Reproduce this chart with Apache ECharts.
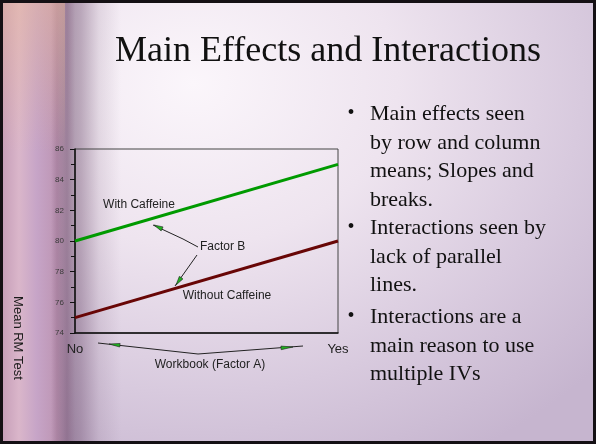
<!DOCTYPE html>
<html>
<head>
<meta charset="utf-8">
<script src="https://cdn.jsdelivr.net/npm/echarts@6/dist/echarts.min.js"></script>
<style>
  html, body { margin: 0; padding: 0; }
  #slide {
    width: 596px; height: 444px; box-sizing: border-box;
    border: 3px solid #141014;
    background:
      linear-gradient(to bottom, rgba(235,185,150,0.45) 0, rgba(235,185,150,0) 150px) 0 0 / 62px 100% no-repeat,
      linear-gradient(to right, rgba(0,0,0,0) 0, rgba(0,0,0,0) 48px, rgba(80,45,80,0.45) 64px, rgba(95,60,95,0.38) 78px, rgba(120,90,120,0.15) 96px, rgba(255,255,255,0) 118px),
      linear-gradient(to right, #c79fb9 0, #dab6ca 16px, #c6a4c7 34px, #bd95b3 54px, rgba(200,170,200,0) 72px),
      radial-gradient(ellipse 540px 430px at 190px 80px, #fbf6fb 0%, #eee4ef 38%, #d8cade 72%, #c6b5cf 100%);
  }
</style>
</head>
<body>
<div id="slide"></div>
<script>
  // chart values
  const categories = ['No', 'Yes'];
  const withCaffeine = [80, 85];
  const withoutCaffeine = [75, 80];
  const yMin = 74, yMax = 86, yStep = 2;

  const titleText = 'Main Effects and Interactions';
  const bullets = [
    ['Main effects seen', 'by row and column', 'means; Slopes and', 'breaks.'],
    ['Interactions seen by', 'lack of parallel', 'lines.'],
    ['Interactions are a', 'main reason to use', 'multiple IVs']
  ];

  const chart = echarts.init(document.getElementById('slide'));

  const arrowHead = (tip, from, len, w) => {
    const dx = tip[0] - from[0], dy = tip[1] - from[1];
    const d = Math.hypot(dx, dy);
    const ux = dx / d, uy = dy / d;
    const bx = tip[0] - ux * len, by = tip[1] - uy * len;
    return {
      type: 'polygon', z: 20,
      shape: {points: [tip, [bx - uy * w, by + ux * w], [bx + uy * w, by - ux * w]]},
      style: {fill: '#1fb01f', stroke: '#222', lineWidth: 0.6}
    };
  };
  const line = (pts) => ({
    type: 'polyline', z: 19, shape: {points: pts},
    style: {stroke: '#222', lineWidth: 1, fill: null}
  });
  const label = (txt, x, y, align, size) => ({
    type: 'text', z: 20, x: x, y: y,
    style: {text: txt, font: (size || 12) + 'px Arial, "Liberation Sans"', fill: '#222', align: align || 'center', verticalAlign: 'middle'}
  });

  // bullet text blocks
  const bulletGraphics = [];
  const paraTop = [111, 225, 314];
  bullets.forEach((para, i) => {
    bulletGraphics.push({
      type: 'text', x: 348, y: paraTop[i],
      style: {text: '•', font: '20px "Liberation Serif", "Times New Roman", serif', fill: '#111', align: 'center', verticalAlign: 'middle'}
    });
    bulletGraphics.push({
      type: 'text', x: 367, y: paraTop[i] - 14,
      style: {text: para.join('\n'), font: '22px "Liberation Serif", "Times New Roman", serif', lineHeight: 28.5, fill: '#111', align: 'left', verticalAlign: 'top'}
    });
  });

  chart.setOption({
    backgroundColor: 'transparent',
    animation: false,
    grid: {
      left: 72, top: 146, width: 263, height: 184,
      show: true, borderColor: '#444', borderWidth: 1, backgroundColor: 'transparent'
    },
    xAxis: {
      type: 'category',
      data: categories,
      boundaryGap: false,
      axisLine: {lineStyle: {color: '#111', width: 1.5}},
      axisTick: {show: false},
      axisLabel: {fontSize: 13, color: '#222', margin: 10, fontFamily: 'Arial'},
      splitLine: {show: false}
    },
    yAxis: {
      type: 'value',
      min: yMin, max: yMax, interval: yStep,
      axisLine: {show: true, lineStyle: {color: '#111', width: 1.5}},
      axisTick: {show: true, length: 5, lineStyle: {color: '#111'}},
      minorTick: {show: true, splitNumber: 2, length: 4, lineStyle: {color: '#111'}},
      axisLabel: {fontSize: 8, color: '#3a3a3a', margin: 11, fontFamily: 'Arial'},
      splitLine: {show: false}
    },
    series: [
      {
        name: 'With Caffeine', type: 'line', data: withCaffeine,
        symbol: 'none', lineStyle: {color: '#009a00', width: 3}
      },
      {
        name: 'Without Caffeine', type: 'line', data: withoutCaffeine,
        symbol: 'none', lineStyle: {color: '#680606', width: 3}
      }
    ],
    graphic: [
      {
        type: 'text', x: 325, y: 49,
        style: {text: titleText, font: '36px "Liberation Serif", "Times New Roman", serif', fill: '#111', align: 'center', verticalAlign: 'middle'}
      },
      ...bulletGraphics,
      {
        type: 'text', x: 15, y: 335, rotation: -Math.PI / 2,
        style: {text: 'Mean RM Test', font: '13px Arial, "Liberation Sans"', fill: '#1a1a1a', align: 'center', verticalAlign: 'middle'}
      },
      label('With Caffeine', 136, 202),
      label('Without Caffeine', 224, 293),
      label('Factor B', 197, 244, 'left'),
      label('Workbook (Factor A)', 207, 362),
      // Factor B callouts
      line([[180, 236], [195, 244]]),
      line([[180, 236], [150, 222]]),
      arrowHead([151, 222], [180, 236], 9, 2.2),
      line([[194, 252], [172, 283]]),
      arrowHead([173, 282], [194, 252], 9, 2.2),
      // Factor A callouts
      line([[195, 351], [95, 340]]),
      arrowHead([106, 341], [195, 351], 11, 1.8),
      line([[195, 351], [300, 343]]),
      arrowHead([290, 344], [195, 351], 12, 1.8)
    ]
  });
</script>
</body>
</html>
